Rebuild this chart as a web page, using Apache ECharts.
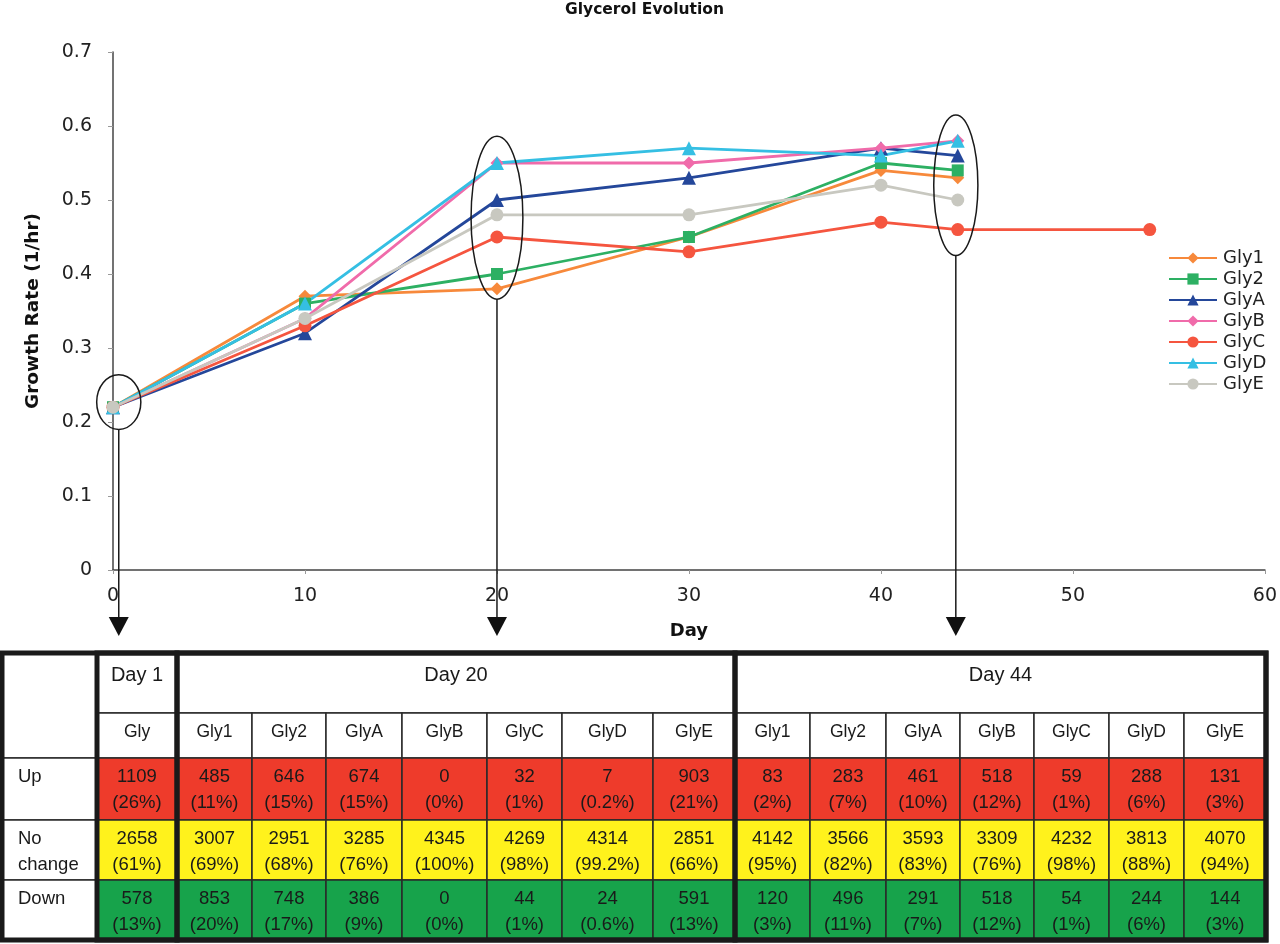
<!DOCTYPE html>
<html><head><meta charset="utf-8">
<script src="https://cdn.jsdelivr.net/npm/echarts@6/dist/echarts.min.js"></script>
<style>html,body{margin:0;padding:0;background:#fff}#c{width:1280px;height:944px}</style>
</head><body><div id="c"></div>
<script>
// ---------- chart data ----------
const days = [0, 10, 20, 30, 40, 44];
const daysGlyC = [0, 10, 20, 30, 40, 44, 54];
const gly1 = [0.22, 0.37, 0.38, 0.45, 0.54, 0.53];
const gly2 = [0.22, 0.36, 0.40, 0.45, 0.55, 0.54];
const glyA = [0.22, 0.32, 0.50, 0.53, 0.57, 0.56];
const glyB = [0.22, 0.34, 0.55, 0.55, 0.57, 0.58];
const glyC = [0.22, 0.33, 0.45, 0.43, 0.47, 0.46, 0.46];
const glyD = [0.22, 0.36, 0.55, 0.57, 0.56, 0.58];
const glyE = [0.22, 0.34, 0.48, 0.48, 0.52, 0.50];
const seriesNames = ['Gly1', 'Gly2', 'GlyA', 'GlyB', 'GlyC', 'GlyD', 'GlyE'];

// ---------- table data ----------
const tableGroups = ['Day 1', 'Day 20', 'Day 44'];
const groupSpans = [1, 7, 7];
const tableStrains = ['Gly', 'Gly1', 'Gly2', 'GlyA', 'GlyB', 'GlyC', 'GlyD', 'GlyE',
  'Gly1', 'Gly2', 'GlyA', 'GlyB', 'GlyC', 'GlyD', 'GlyE'];
const tableRows = ['Up', 'No\nchange', 'Down'];
const upCounts = [1109, 485, 646, 674, 0, 32, 7, 903, 83, 283, 461, 518, 59, 288, 131];
const upPct = ['26%', '11%', '15%', '15%', '0%', '1%', '0.2%', '21%', '2%', '7%', '10%', '12%', '1%', '6%', '3%'];
const noChangeCounts = [2658, 3007, 2951, 3285, 4345, 4269, 4314, 2851, 4142, 3566, 3593, 3309, 4232, 3813, 4070];
const noChangePct = ['61%', '69%', '68%', '76%', '100%', '98%', '99.2%', '66%', '95%', '82%', '83%', '76%', '98%', '88%', '94%'];
const downCounts = [578, 853, 748, 386, 0, 44, 24, 591, 120, 496, 291, 518, 54, 244, 144];
const downPct = ['13%', '20%', '17%', '9%', '0%', '1%', '0.6%', '13%', '3%', '11%', '7%', '12%', '1%', '6%', '3%'];

// ---------- annotation (ellipses, in data units) ----------
const markDays = [0.3, 20, 43.9];
const markVals = [0.227, 0.476, 0.52];
const markHalfDays = [1.15, 1.35, 1.15];
const markHalfVals = [0.037, 0.11, 0.095];

// ---------- layout / style ----------
const colors = ['#F7893B', '#2DB063', '#24479A', '#F06BAA', '#F5553F', '#35BFE3', '#C8C8C0'];
const symbols = ['diamond', 'rect', 'triangle', 'diamond', 'circle', 'triangle', 'circle'];
const symbolSizes = [13, 12, 14, 13, 13, 14, 13];
const colWidths = [95, 80, 75, 74, 76, 85, 75, 91, 82, 75, 76, 74, 74, 75, 75, 82];
const rowHeights = [60, 45, 62, 60, 60];
const cellColors = ['#EE3B2B', '#FFF21C', '#17A34B'];

const xEdges = [0]; colWidths.forEach(w => xEdges.push(xEdges[xEdges.length - 1] + w));
const yEdges = [0]; rowHeights.forEach(h => yEdges.push(yEdges[yEdges.length - 1] + h));
const tableW = xEdges[xEdges.length - 1], tableH = yEdges[yEdges.length - 1];

// build table cells
const cells = [];
cells.push({ col: 0, row: 0, cs: 1, rs: 2, text: '', fill: '#fff', kind: 'blank' });
let c0 = 1;
tableGroups.forEach((g, i) => { cells.push({ col: c0, row: 0, cs: groupSpans[i], rs: 1, text: g, fill: '#fff', kind: 'group' }); c0 += groupSpans[i]; });
tableStrains.forEach((s, i) => cells.push({ col: i + 1, row: 1, cs: 1, rs: 1, text: s, fill: '#fff', kind: 'strain' }));
tableRows.forEach((r, j) => cells.push({ col: 0, row: j + 2, cs: 1, rs: 1, text: r, fill: '#fff', kind: 'rowlabel' }));
const counts = [upCounts, noChangeCounts, downCounts];
const pcts = [upPct, noChangePct, downPct];
counts.forEach((arr, j) => arr.forEach((v, i) => cells.push({
  col: i + 1, row: j + 2, cs: 1, rs: 1, text: v + '\n(' + pcts[j][i] + ')', fill: cellColors[j], kind: 'value'
})));
const blocks = [{ col: 0, row: 0, cs: 16, rs: 5 }];
c0 = 1; groupSpans.forEach(s => { blocks.push({ col: c0, row: 0, cs: s, rs: 5 }); c0 += s; });

function cellRect(api, c) {
  const p0 = api.coord([xEdges[c.col], yEdges[c.row]]);
  const p1 = api.coord([xEdges[c.col + c.cs], yEdges[c.row + c.rs]]);
  return { x: p0[0], y: p0[1], width: p1[0] - p0[0], height: p1[1] - p0[1] };
}

const chart = echarts.init(document.getElementById('c'), null, { renderer: 'canvas' });

const lineSeries = seriesNames.map((n, i) => {
  const vals = [gly1, gly2, glyA, glyB, glyC, glyD, glyE][i];
  const xs = n === 'GlyC' ? daysGlyC : days;
  return {
    name: n, type: 'line', xAxisIndex: 0, yAxisIndex: 0,
    data: vals.map((v, k) => [xs[k], v]),
    symbol: symbols[i], symbolSize: symbolSizes[i],
    lineStyle: { color: colors[i], width: 2.8 },
    itemStyle: { color: colors[i] },
    emphasis: { disabled: true }, animation: false
  };
});

const txtFont = 'Liberation Sans, Arial, sans-serif';

chart.setOption({
  animation: false,
  title: {
    text: 'Glycerol Evolution', left: 565, top: 2, padding: 0,
    textStyle: { fontFamily: 'DejaVu Sans', fontWeight: 'bold', fontSize: 15.5, color: '#111' }
  },
  legend: {
    data: seriesNames, orient: 'vertical', left: 1168, top: 249, itemGap: 3,
    itemWidth: 48, itemHeight: 14, padding: 0,
    textStyle: { fontFamily: 'DejaVu Sans', fontSize: 18, color: '#222', padding: [0, 0, 0, 1] }
  },
  grid: [
    { left: 113, top: 52, width: 1153, height: 518 },
    { left: 2, top: 653, width: tableW, height: tableH }
  ],
  xAxis: [
    {
      type: 'value', gridIndex: 0, min: 0, max: 60, interval: 10,
      name: 'Day', nameLocation: 'middle', nameGap: 52,
      nameTextStyle: { fontFamily: 'DejaVu Sans', fontWeight: 'bold', fontSize: 18, color: '#111' },
      axisLine: { lineStyle: { color: '#444', width: 1.5 } },
      axisTick: { show: true, length: 4, lineStyle: { color: '#999' } },
      axisLabel: { fontFamily: 'DejaVu Sans', fontSize: 19, color: '#222', margin: 17 },
      splitLine: { show: false }
    },
    { type: 'value', gridIndex: 1, min: 0, max: tableW, show: false }
  ],
  yAxis: [
    {
      type: 'value', gridIndex: 0, min: 0, max: 0.7, interval: 0.1,
      name: 'Growth Rate (1/hr)', nameLocation: 'middle', nameGap: 70,
      nameTextStyle: { fontFamily: 'DejaVu Sans', fontWeight: 'bold', fontSize: 18.5, color: '#111' },
      axisLine: { show: true, lineStyle: { color: '#444', width: 1.5 } },
      axisTick: { show: true, length: 5, lineStyle: { color: '#999' } },
      axisLabel: { fontFamily: 'DejaVu Sans', fontSize: 19, color: '#222', margin: 21 },
      splitLine: { show: false }
    },
    { type: 'value', gridIndex: 1, min: 0, max: tableH, inverse: true, show: false }
  ],
  series: lineSeries.concat([
    {
      type: 'custom', name: 'tableCells', xAxisIndex: 1, yAxisIndex: 1, clip: false,
      data: cells.map(c => [c.col, c.row]),
      renderItem: function (params, api) {
        const c = cells[params.dataIndex];
        const r = cellRect(api, c);
        const children = [{
          type: 'rect', shape: r,
          style: { fill: c.fill, stroke: '#2a2a2a', lineWidth: 1.5 }
        }];
        if (c.text) {
          let tx = r.x + r.width / 2, ty = r.y + 6, align = 'center', fs = 18.5;
          if (c.kind === 'group') { ty = r.y + 9; fs = 20; }
          if (c.kind === 'strain') { fs = 17.5; }
          if (c.kind === 'rowlabel') { tx = r.x + 16; align = 'left'; fs = 18.5; }
          children.push({
            type: 'text',
            style: {
              x: tx, y: ty, text: c.text, align: align, verticalAlign: 'top',
              font: fs + 'px ' + txtFont, lineHeight: 26, fill: '#1a1a1a'
            }
          });
        }
        return { type: 'group', children: children };
      }
    },
    {
      type: 'custom', name: 'tableBlocks', xAxisIndex: 1, yAxisIndex: 1, clip: false,
      data: blocks.map(b => [b.col, b.row]),
      renderItem: function (params, api) {
        const r = cellRect(api, blocks[params.dataIndex]);
        return { type: 'rect', shape: r, style: { fill: null, stroke: '#1a1a1a', lineWidth: 5 } };
      }
    }
  ])
});

// ellipses + arrows
const tableTop = chart.convertToPixel({ xAxisIndex: 1, yAxisIndex: 1 }, [0, 0])[1];
const tipY = tableTop - 17;
const gfx = [];
markDays.forEach((d, i) => {
  const c = chart.convertToPixel({ xAxisIndex: 0, yAxisIndex: 0 }, [d, markVals[i]]);
  const px = chart.convertToPixel({ xAxisIndex: 0, yAxisIndex: 0 }, [d + markHalfDays[i], markVals[i] + markHalfVals[i]]);
  const rx = px[0] - c[0], ry = c[1] - px[1];
  gfx.push({ type: 'ellipse', shape: { cx: c[0], cy: c[1], rx: rx, ry: ry }, style: { fill: null, stroke: '#1a1a1a', lineWidth: 1.5 }, z: 100 });
  gfx.push({ type: 'line', shape: { x1: c[0], y1: c[1] + ry, x2: c[0], y2: tipY - 12 }, style: { stroke: '#1a1a1a', lineWidth: 1.5 }, z: 100 });
  gfx.push({ type: 'polygon', shape: { points: [[c[0] - 10, tipY - 19], [c[0] + 10, tipY - 19], [c[0], tipY]] }, style: { fill: '#111' }, z: 100 });
});
chart.setOption({ graphic: gfx });
</script>
</body></html>
